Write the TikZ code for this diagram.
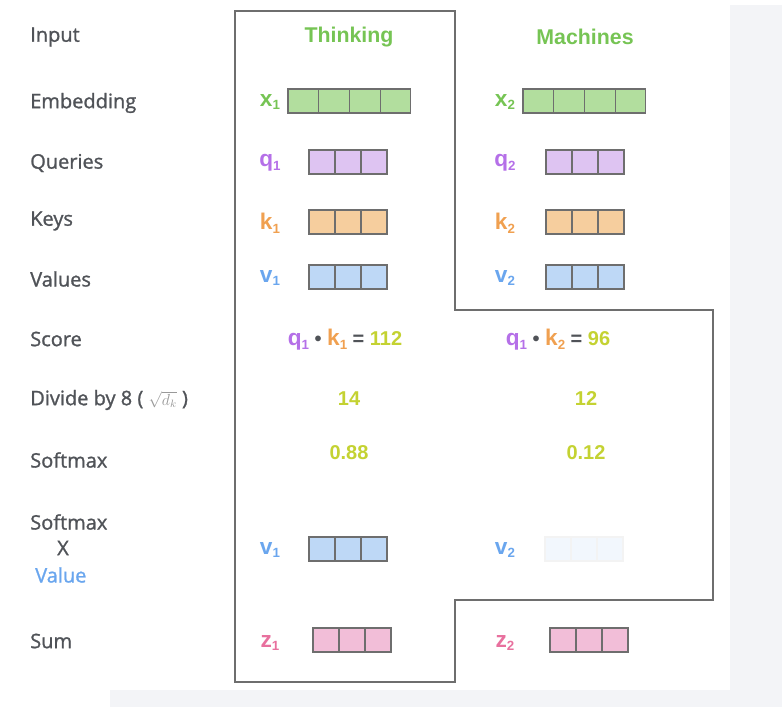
\documentclass[tikz,border=0pt]{standalone}
\usepackage{fontspec}
\setmainfont{Liberation Sans}
\newfontfamily\labelfont[FakeBold=1.2]{Open Sans}
\usetikzlibrary{positioning}
\definecolor{labelgray}{RGB}{80,83,88}
\definecolor{wordgreen}{RGB}{118,196,84}
\definecolor{xcol}{RGB}{118,196,84}
\definecolor{qcol}{RGB}{181,112,232}
\definecolor{kcol}{RGB}{240,160,80}
\definecolor{vcol}{RGB}{106,166,238}
\definecolor{zcol}{RGB}{232,112,158}
\definecolor{numcol}{RGB}{196,210,50}
\definecolor{xfill}{RGB}{178,222,158}
\definecolor{qfill}{RGB}{222,196,242}
\definecolor{kfill}{RGB}{246,206,158}
\definecolor{vfill}{RGB}{190,216,246}
\definecolor{zfill}{RGB}{242,190,216}
\definecolor{edgegray}{RGB}{110,110,110}
\definecolor{pagegray}{RGB}{243,244,247}
\newcommand{\vname}[3]{\textcolor{#1}{\bfseries #2\raisebox{-0.3ex}{\fontsize{10}{10}\selectfont #3}}}

\begin{document}
\begin{tikzpicture}[
  x=0.75pt, y=-0.75pt,
  rowlabel/.style={anchor=west, inner sep=0pt, font=\labelfont\fontsize{15}{18}\selectfont, text=labelgray},
  word/.style={inner sep=0pt, font=\bfseries\fontsize{16}{19}\selectfont, text=wordgreen},
  num/.style={inner sep=0pt, font=\bfseries\fontsize{15}{18}\selectfont, text=numcol},
  vlabel/.style={inner sep=0pt, font=\fontsize{17}{20}\selectfont},
  cellbox/.style={draw=edgegray, line width=0.8pt, minimum width=19.5pt, minimum height=18pt, inner sep=0pt, outer sep=0pt},
  widebox/.style={cellbox, minimum width=23pt},
]
  % page background
  \fill[pagegray] (730,5) rectangle (782,707);
  \fill[pagegray] (110,690) rectangle (782,707);
  \useasboundingbox (0,0) rectangle (782,707);

  % outline round the steps for word 1
  \draw[edgegray, line width=1.1pt] (235,11) -- (455,11) -- (455,310) -- (713,310)
    -- (713,600) -- (455,600) -- (455,682) -- (235,682) -- cycle;

  % Row labels
  \node[rowlabel] (linput) at (30,37) {Input};
  \node[rowlabel] (lembed) at (30,103) {Embedding};
  \node[rowlabel] (lquery) at (30,163) {Queries};
  \node[rowlabel] (lkey) at (30,221) {Keys};
  \node[rowlabel] (lvalue) at (30,279) {Values};
  \node[rowlabel] (lscore) at (30,339) {Score};
  \node[rowlabel] (ldivide) at (30,400) {Divide by 8 ( \textcolor{gray!80}{\fontsize{12}{12}\selectfont$\sqrt{d_k}$} )};
  \node[rowlabel] (lsoftmax) at (30,460) {Softmax};
  \node[rowlabel] (lsoft) at (30,522) {Softmax};
  \node[rowlabel, anchor=center] (ltimes) at (63,548) {X};
  \node[rowlabel, text=vcol] (lval) at (35,575) {Value};
  \node[rowlabel] (lsum) at (30,641) {Sum};

  % Words
  \node[word] (thinking) at (349,37) {Thinking};
  \node[word] (machines) at (585,37) {Machines};

  % Embeddings
  \foreach \i in {1,...,4} {
    \node[widebox, fill=xfill] (x1\i) at ({288+30.7*(\i-0.5)},101) {};
    \node[widebox, fill=xfill] (x2\i) at ({523+30.7*(\i-0.5)},101) {};
  }
  \node[vlabel] (lx1) at (270,102) {\vname{xcol}{x}{1}};
  \node[vlabel] (lx2) at (505,102) {\vname{xcol}{x}{2}};

  % Queries, keys, values
  \foreach \r/\y/\f/\c in {q/162/qfill/qcol, k/222/kfill/kcol, v/277/vfill/vcol} {
    \foreach \i in {1,2,3} {
      \node[cellbox, fill=\f] (\r1\i) at ({309+26*(\i-0.5)},\y) {};
      \node[cellbox, fill=\f] (\r2\i) at ({546+26*(\i-0.5)},\y) {};
    }
    \node[vlabel] (l\r1) at (270,\y+1) {\vname{\c}{\r}{1}};
    \node[vlabel] (l\r2) at (505,\y+1) {\vname{\c}{\r}{2}};
  }

  % Score, divide, softmax
  \node[num] (score1) at (345,340) {\vname{qcol}{\fontsize{17}{20}\selectfont q}{1}\ \textcolor{labelgray}{\textbullet}\ \vname{kcol}{\fontsize{17}{20}\selectfont k}{1} \textcolor{labelgray}{=} 112};
  \node[num] (score2) at (558,340) {\vname{qcol}{\fontsize{17}{20}\selectfont q}{1}\ \textcolor{labelgray}{\textbullet}\ \vname{kcol}{\fontsize{17}{20}\selectfont k}{2}\ \textcolor{labelgray}{=} 96};
  \node[num] (div1) at (349,399) {14};
  \node[num] (div2) at (586,399) {12};
  \node[num] (soft1) at (349,453) {0.88};
  \node[num] (soft2) at (586,453) {0.12};

  % Weighted values and sum
  \foreach \i in {1,2,3} {
    \node[cellbox, fill=vfill] (wv1\i) at ({309+26*(\i-0.5)},549) {};
    \node[cellbox, draw=edgegray!8, fill=vfill!20] (wv2\i) at ({545+26*(\i-0.5)},549) {};
    \node[cellbox, fill=zfill] (z1\i) at ({313+26*(\i-0.5)},640) {};
    \node[cellbox, fill=zfill] (z2\i) at ({550+26*(\i-0.5)},640) {};
  }
  \node[vlabel] (lwv1) at (270,550) {\vname{vcol}{v}{1}};
  \node[vlabel] (lwv2) at (505,550) {\vname{vcol}{v}{2}};
  \node[vlabel] (lz1) at (270,643) {\vname{zcol}{z}{1}};
  \node[vlabel] (lz2) at (505,643) {\vname{zcol}{z}{2}};
\end{tikzpicture}
\end{document}
